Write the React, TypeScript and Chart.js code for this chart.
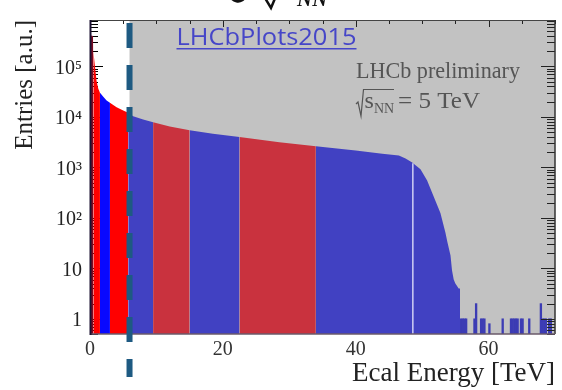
import React, { useEffect, useRef } from 'react';
import { Chart, registerables } from 'chart.js';

Chart.register(...registerables);

// Histogram envelope (Ecal energy in TeV, entries)
const envE = [0, 0.45, 0.5, 0.75, 1.0, 1.25, 1.5, 2.0, 2.5, 3.0, 4.0, 5.0, 5.75, 6.5, 8.0, 9.5, 12, 15, 18.5, 22.5, 28.5, 34, 40, 44, 46.5, 47.5, 48.5, 49.75, 50.75, 51.75, 52.75, 53.5, 53.8, 54.27, 54.5, 54.75, 55.0, 55.5, 55.7];
const envN = [4.1e5, 4.0e5, 2.0e5, 9.8e4, 5.0e4, 3.6e4, 3.0e4, 2.5e4, 2.1e4, 1.9e4, 1.55e4, 1.33e4, 1.2e4, 1.02e4, 8.8e3, 7.8e3, 6.4e3, 5.4e3, 4.6e3, 4.0e3, 3.15e3, 2.6e3, 2.15e3, 1.85e3, 1.72e3, 1.5e3, 1.24e3, 920, 545, 260, 124, 51, 33, 18, 9, 6, 5, 4, 4];

// Colour bands (centrality classes)
const bandEdges = [0, 0.5, 1.5, 3.0, 5.75, 9.5, 15, 22.5, 34, 55.7];
const bandColors = ['#7a0a22', '#ff0000', '#0808ff', '#ff0000', '#4141c2', '#c9323e', '#4141c2', '#c9323e', '#4141c2'];

// Sparse tail bins
const tailE = [55.875, 56.125, 56.375, 56.625, 57.875, 58.125, 58.875, 59.125, 59.375, 60.125, 62.125, 63.375, 63.625, 63.875, 64.125, 64.375, 64.875, 65.125, 66.125, 67.875, 68.125, 68.375, 68.625, 69.125, 69.375];
const tailN = [1, 1, 1, 1, 1, 2, 1, 1, 1, 0.8, 1, 1, 1, 1, 1, 1, 1, 1, 1, 2, 1, 1, 1, 1, 1];

// Axis ticks
const xTickValues = [0, 20, 40, 60];
const yTickValues = [1, 10, 100, 1000, 10000, 100000];
const yTickLabels = ['1', '10', '10²', '10³', '10⁴', '10⁵'];

// Markers
const cutE = 5.95;
const gapE = 48.6;
const gapN = 1200;

const SERIF = "'Liberation Serif', 'Times New Roman', serif";

function fitText(ctx: CanvasRenderingContext2D, text: string, x: number, y: number, font: string, targetW: number) {
  ctx.font = font;
  const w = ctx.measureText(text).width;
  ctx.save();
  ctx.translate(x, y);
  ctx.scale(targetW / w, 1);
  ctx.fillText(text, 0, 0);
  ctx.restore();
}

function logTickValues(min: number, max: number) {
  const out: { v: number; major: boolean }[] = [];
  for (let k = -1; k <= 6; k++) {
    for (let m = 1; m <= 9; m++) {
      const v = m * Math.pow(10, k);
      if (v >= min && v <= max) out.push({ v, major: m === 1 });
    }
  }
  return out;
}

const decor = {
  id: 'decor',
  beforeDatasetsDraw(chart: any) {
    const { ctx, chartArea: a, scales } = chart;
    const x = scales.x, y = scales.y;
    ctx.save();
    ctx.fillStyle = '#c2c2c2';
    const gx = x.getPixelForValue(cutE);
    ctx.fillRect(gx, a.top, a.right - gx, a.bottom - a.top);
    // left inner ticks
    ctx.strokeStyle = '#000';
    ctx.lineWidth = 1;
    for (const t of logTickValues(y.min, y.max)) {
      const py = Math.round(y.getPixelForValue(t.v)) + 0.5;
      ctx.beginPath();
      ctx.moveTo(a.left, py);
      ctx.lineTo(a.left + (t.major ? 13 : 8), py);
      ctx.stroke();
    }
    ctx.restore();
  },
  afterDatasetsDraw(chart: any) {
    const { ctx, chartArea: a, scales } = chart;
    const x = scales.x, y = scales.y;
    ctx.save();
    // light gap line
    ctx.strokeStyle = 'rgba(215,215,245,0.95)';
    ctx.lineWidth = 1.5;
    const lx = x.getPixelForValue(gapE);
    ctx.beginPath();
    ctx.moveTo(lx, y.getPixelForValue(gapN));
    ctx.lineTo(lx, a.bottom);
    ctx.stroke();

    // right ticks
    ctx.strokeStyle = '#222';
    ctx.lineWidth = 1;
    for (const t of logTickValues(y.min, y.max)) {
      const py = Math.round(y.getPixelForValue(t.v)) + 0.5;
      ctx.beginPath();
      ctx.moveTo(a.right, py);
      ctx.lineTo(a.right - (t.major ? 14 : 8), py);
      ctx.stroke();
    }
    // top ticks
    for (let e = 0; e <= x.max; e += 5) {
      const px = Math.round(x.getPixelForValue(e)) + 0.5;
      ctx.beginPath();
      ctx.moveTo(px, a.top);
      ctx.lineTo(px, a.top + (e % 20 === 0 ? 7 : 4));
      ctx.stroke();
    }
    // frame
    ctx.strokeStyle = '#444';
    ctx.lineWidth = 1;
    ctx.beginPath();
    ctx.moveTo(a.left, a.top + 0.5);
    ctx.lineTo(a.right, a.top + 0.5);
    ctx.stroke();
    ctx.strokeStyle = '#333';
    ctx.lineWidth = 1.5;
    ctx.beginPath();
    ctx.moveTo(a.right, a.top);
    ctx.lineTo(a.right, a.bottom);
    ctx.stroke();
    ctx.strokeStyle = '#6a5a6a';
    ctx.beginPath();
    ctx.moveTo(a.left, a.bottom);
    ctx.lineTo(a.right, a.bottom);
    ctx.stroke();
    ctx.strokeStyle = '#1a1030';
    ctx.lineWidth = 2;
    ctx.beginPath();
    ctx.moveTo(a.left + 0.5, a.top);
    ctx.lineTo(a.left + 0.5, a.bottom + 1);
    ctx.stroke();

    // dashed cut line
    const cx = x.getPixelForValue(cutE);
    ctx.strokeStyle = '#1e5a82';
    ctx.lineWidth = 6;
    ctx.setLineDash([25, 17]);
    ctx.beginPath();
    ctx.moveTo(cx, a.top + 3);
    ctx.lineTo(cx, a.bottom + 43);
    ctx.stroke();
    ctx.setLineDash([]);

    // LHCbPlots2015 link text
    ctx.fillStyle = '#4646c8';
    ctx.textBaseline = 'alphabetic';
    ctx.textAlign = 'left';
    fitText(ctx, 'LHCbPlots2015', 176.5, 45, "23px 'Open Sans', sans-serif", 180);
    ctx.fillRect(176.5, 48, 180, 1.5);

    // LHCb preliminary
    ctx.fillStyle = '#555';
    fitText(ctx, 'LHCb preliminary', 356, 78, `23px ${SERIF}`, 164);

    // sqrt(s_NN) = 5 TeV
    ctx.strokeStyle = '#555';
    ctx.lineWidth = 1.2;
    ctx.beginPath();
    ctx.moveTo(356, 104);
    ctx.lineTo(358, 102);
    ctx.lineTo(361, 116);
    ctx.lineTo(363.5, 89.5);
    ctx.lineTo(394, 89.5);
    ctx.stroke();
    ctx.font = `24px ${SERIF}`;
    ctx.fillText('s', 364.5, 108);
    ctx.font = `14px ${SERIF}`;
    ctx.fillText('NN', 374, 113);
    fitText(ctx, '= 5 TeV', 398, 108, `24px ${SERIF}`, 82);

    // cut-off title fragment at the very top
    ctx.fillStyle = '#111';
    ctx.font = `bold italic 21px ${SERIF}`;
    ctx.fillText('NN', 297, 6);
    ctx.strokeStyle = '#111';
    ctx.lineWidth = 2.5;
    ctx.beginPath();
    ctx.moveTo(265, -2);
    ctx.lineTo(271, 8);
    ctx.lineTo(276, -4);
    ctx.stroke();
    ctx.lineWidth = 3.5;
    ctx.beginPath();
    ctx.ellipse(238, -6, 7, 7, 0, 0.2, Math.PI - 0.2);
    ctx.stroke();
    ctx.restore();
  },
};

function buildDatasets() {
  const ds: any[] = [];
  for (let i = 0; i < bandColors.length; i++) {
    const lo = bandEdges[i], hi = bandEdges[i + 1];
    const pts = envE
      .map((e, j) => ({ x: e, y: envN[j] }))
      .filter((p) => p.x >= lo && p.x <= hi);
    ds.push({
      type: 'line',
      data: pts,
      backgroundColor: bandColors[i],
      borderColor: 'rgba(0,0,0,0)',
      borderWidth: 0,
      pointRadius: 0,
      tension: 0,
      fill: 'start',
      order: 2,
    });
  }
  ds.push({
    type: 'bar',
    data: tailE.map((e, j) => ({ x: e, y: tailN[j] })),
    backgroundColor: '#3c3cb4',
    borderWidth: 0,
    barPercentage: 1,
    categoryPercentage: 1,
    order: 1,
  });
  return ds;
}

export default function App() {
  const ref = useRef<HTMLCanvasElement>(null);
  useEffect(() => {
    const chart = new Chart(ref.current as HTMLCanvasElement, {
      type: 'line',
      data: { datasets: buildDatasets() },
      options: {
        animation: false,
        responsive: false,
        devicePixelRatio: 1,
        events: [],
        layout: { padding: { top: 12, right: 7, bottom: 0, left: 0 } },
        plugins: { legend: { display: false }, tooltip: { enabled: false } },
        scales: {
          x: {
            type: 'linear',
            min: 0,
            max: 70,
            offset: false,
            afterBuildTicks: (s: any) => {
              s.ticks = xTickValues.map((v) => ({ value: v }));
            },
            afterFit: (s: any) => {
              s.height = 56;
            },
            grid: { display: false, drawTicks: false },
            border: { display: false },
            ticks: {
              padding: 4,
              color: '#333',
              font: { family: SERIF, size: 20 },
              maxRotation: 0,
              autoSkip: false,
            },
            title: {
              display: true,
              text: 'Ecal Energy [TeV]',
              align: 'end',
              color: '#222',
              font: { family: SERIF, size: 27 },
              padding: { top: 0, bottom: 0 },
            },
          },
          y: {
            type: 'logarithmic',
            min: 0.5,
            max: 8.26e5,
            afterBuildTicks: (s: any) => {
              s.ticks = yTickValues.map((v) => ({ value: v }));
            },
            afterFit: (s: any) => {
              s.width = 90;
            },
            grid: { display: false, drawTicks: false },
            border: { display: false },
            ticks: {
              padding: 8,
              labelOffset: 2,
              color: '#222',
              autoSkip: false,
              font: { family: SERIF, size: 20 },
              callback: (v: any) => {
                const i = yTickValues.indexOf(Number(v));
                return i >= 0 ? yTickLabels[i] : '';
              },
            },
            title: {
              display: true,
              text: 'Entries [a.u.]',
              align: 'end',
              color: '#222',
              font: { family: SERIF, size: 25 },
              padding: { top: 10, bottom: 0 },
            },
          },
        },
      },
      plugins: [decor],
    } as any);
    return () => chart.destroy();
  }, []);
  return (
    <div style={{ position: 'absolute', left: 0, top: 0, width: 562, height: 390, background: '#fff' }}>
      <canvas ref={ref} width={562} height={390} style={{ display: 'block' }} />
    </div>
  );
}
